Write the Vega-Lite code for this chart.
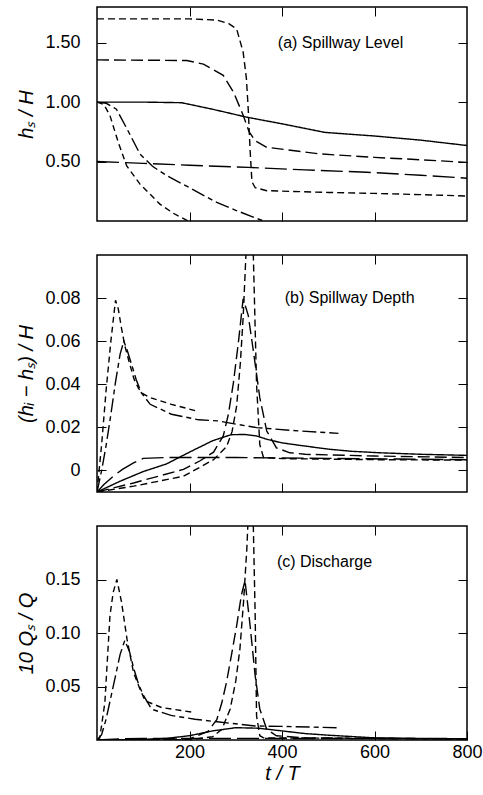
{
"$schema": "https://vega.github.io/schema/vega-lite/v6.json",
"background": "white",
"padding": {"left": 16, "top": 5, "right": 5, "bottom": 5},
"config": {
  "view": {"stroke": "black", "strokeWidth": 1.5},
  "axis": {"labelFont": "Liberation Sans", "labelFontSize": 18, "labelColor": "black", "titleFont": "Liberation Sans", "titleFontSize": 20, "titleFontStyle": "italic", "titleFontWeight": "normal", "titleColor": "black", "tickColor": "black", "tickSize": -9, "tickWidth": 1, "domain": false, "grid": false, "labelPadding": 26, "titlePadding": 8, "labelFlush": false}
},
"datasets": {
"curves": [
{"panel":"a","series":"A","t":0,"v":1.0},{"panel":"a","series":"A","t":100,"v":1.0},{"panel":"a","series":"A","t":183,"v":0.995},{"panel":"a","series":"A","t":250,"v":0.94},{"panel":"a","series":"A","t":324,"v":0.873},{"panel":"a","series":"A","t":402,"v":0.816},{"panel":"a","series":"A","t":493,"v":0.745},{"panel":"a","series":"A","t":600,"v":0.715},{"panel":"a","series":"A","t":700,"v":0.68},{"panel":"a","series":"A","t":800,"v":0.635},
{"panel":"a","series":"B","t":0,"v":1.70},{"panel":"a","series":"B","t":200,"v":1.70},{"panel":"a","series":"B","t":259,"v":1.69},{"panel":"a","series":"B","t":285,"v":1.66},{"panel":"a","series":"B","t":302,"v":1.615},{"panel":"a","series":"B","t":316,"v":1.42},{"panel":"a","series":"B","t":323,"v":1.2},{"panel":"a","series":"B","t":327,"v":0.94},{"panel":"a","series":"B","t":331,"v":0.6},{"panel":"a","series":"B","t":335,"v":0.33},{"panel":"a","series":"B","t":342,"v":0.28},{"panel":"a","series":"B","t":367,"v":0.255},{"panel":"a","series":"B","t":500,"v":0.24},{"panel":"a","series":"B","t":600,"v":0.232},{"panel":"a","series":"B","t":700,"v":0.222},{"panel":"a","series":"B","t":800,"v":0.21},
{"panel":"a","series":"C","t":0,"v":1.355},{"panel":"a","series":"C","t":194,"v":1.35},{"panel":"a","series":"C","t":230,"v":1.32},{"panel":"a","series":"C","t":273,"v":1.225},{"panel":"a","series":"C","t":295,"v":1.085},{"panel":"a","series":"C","t":316,"v":0.89},{"panel":"a","series":"C","t":329,"v":0.75},{"panel":"a","series":"C","t":342,"v":0.675},{"panel":"a","series":"C","t":367,"v":0.62},{"panel":"a","series":"C","t":479,"v":0.565},{"panel":"a","series":"C","t":600,"v":0.535},{"panel":"a","series":"C","t":700,"v":0.515},{"panel":"a","series":"C","t":800,"v":0.493},
{"panel":"a","series":"D","t":0,"v":0.5},{"panel":"a","series":"D","t":100,"v":0.485},{"panel":"a","series":"D","t":200,"v":0.469},{"panel":"a","series":"D","t":327,"v":0.451},{"panel":"a","series":"D","t":450,"v":0.43},{"panel":"a","series":"D","t":583,"v":0.41},{"panel":"a","series":"D","t":700,"v":0.385},{"panel":"a","series":"D","t":800,"v":0.36},
{"panel":"a","series":"E","t":0,"v":1.0},{"panel":"a","series":"E","t":20,"v":0.99},{"panel":"a","series":"E","t":42,"v":0.94},{"panel":"a","series":"E","t":65,"v":0.774},{"panel":"a","series":"E","t":93,"v":0.563},{"panel":"a","series":"E","t":120,"v":0.46},{"panel":"a","series":"E","t":151,"v":0.381},{"panel":"a","series":"E","t":200,"v":0.28},{"panel":"a","series":"E","t":259,"v":0.156},{"panel":"a","series":"E","t":300,"v":0.09},{"panel":"a","series":"E","t":360,"v":0.0},
{"panel":"a","series":"F","t":0,"v":1.0},{"panel":"a","series":"F","t":15,"v":0.98},{"panel":"a","series":"F","t":28,"v":0.887},{"panel":"a","series":"F","t":46,"v":0.662},{"panel":"a","series":"F","t":64,"v":0.465},{"panel":"a","series":"F","t":93,"v":0.31},{"panel":"a","series":"F","t":136,"v":0.142},{"panel":"a","series":"F","t":165,"v":0.065},{"panel":"a","series":"F","t":197,"v":0.0},

{"panel":"b","series":"A","t":0,"v":-0.01},{"panel":"b","series":"A","t":50,"v":-0.005},{"panel":"b","series":"A","t":100,"v":-0.0005},{"panel":"b","series":"A","t":150,"v":0.003},{"panel":"b","series":"A","t":200,"v":0.0085},{"panel":"b","series":"A","t":250,"v":0.0138},{"panel":"b","series":"A","t":290,"v":0.0166},{"panel":"b","series":"A","t":320,"v":0.0167},{"panel":"b","series":"A","t":345,"v":0.016},{"panel":"b","series":"A","t":370,"v":0.0143},{"panel":"b","series":"A","t":400,"v":0.0128},{"panel":"b","series":"A","t":440,"v":0.0116},{"panel":"b","series":"A","t":500,"v":0.0099},{"panel":"b","series":"A","t":550,"v":0.0089},{"panel":"b","series":"A","t":612,"v":0.0082},{"panel":"b","series":"A","t":700,"v":0.0075},{"panel":"b","series":"A","t":800,"v":0.007},
{"panel":"b","series":"B","t":0,"v":-0.01},{"panel":"b","series":"B","t":79,"v":-0.0073},{"panel":"b","series":"B","t":187,"v":-0.0027},{"panel":"b","series":"B","t":252,"v":0.005},{"panel":"b","series":"B","t":280,"v":0.011},{"panel":"b","series":"B","t":292,"v":0.018},{"panel":"b","series":"B","t":302,"v":0.03},{"panel":"b","series":"B","t":310,"v":0.05},{"panel":"b","series":"B","t":316,"v":0.071},{"panel":"b","series":"B","t":322,"v":0.1},{"panel":"b","series":"B","t":330,"v":0.13},{"panel":"b","series":"B","t":338,"v":0.1},{"panel":"b","series":"B","t":345,"v":0.04},{"panel":"b","series":"B","t":352,"v":0.012},{"panel":"b","series":"B","t":360,"v":0.006},{"panel":"b","series":"B","t":400,"v":0.0055},{"panel":"b","series":"B","t":600,"v":0.005},{"panel":"b","series":"B","t":800,"v":0.0048},
{"panel":"b","series":"C","t":0,"v":-0.01},{"panel":"b","series":"C","t":79,"v":-0.0058},{"panel":"b","series":"C","t":187,"v":0.0005},{"panel":"b","series":"C","t":223,"v":0.0045},{"panel":"b","series":"C","t":252,"v":0.0085},{"panel":"b","series":"C","t":273,"v":0.016},{"panel":"b","series":"C","t":284,"v":0.026},{"panel":"b","series":"C","t":295,"v":0.0408},{"panel":"b","series":"C","t":306,"v":0.06},{"panel":"b","series":"C","t":316,"v":0.0797},{"panel":"b","series":"C","t":327,"v":0.072},{"panel":"b","series":"C","t":338,"v":0.0556},{"panel":"b","series":"C","t":352,"v":0.0338},{"panel":"b","series":"C","t":367,"v":0.0183},{"panel":"b","series":"C","t":388,"v":0.0105},{"panel":"b","series":"C","t":417,"v":0.0082},{"panel":"b","series":"C","t":450,"v":0.0075},{"panel":"b","series":"C","t":600,"v":0.0067},{"panel":"b","series":"C","t":800,"v":0.006},
{"panel":"b","series":"D","t":0,"v":-0.01},{"panel":"b","series":"D","t":15,"v":-0.0065},{"panel":"b","series":"D","t":35,"v":-0.0027},{"panel":"b","series":"D","t":55,"v":0.0005},{"panel":"b","series":"D","t":79,"v":0.0035},{"panel":"b","series":"D","t":100,"v":0.0056},{"panel":"b","series":"D","t":150,"v":0.006},{"panel":"b","series":"D","t":300,"v":0.006},{"panel":"b","series":"D","t":500,"v":0.0056},{"panel":"b","series":"D","t":650,"v":0.0053},{"panel":"b","series":"D","t":800,"v":0.005},
{"panel":"b","series":"E","t":0,"v":-0.01},{"panel":"b","series":"E","t":10,"v":0.0},{"panel":"b","series":"E","t":20,"v":0.012},{"panel":"b","series":"E","t":30,"v":0.026},{"panel":"b","series":"E","t":40,"v":0.041},{"panel":"b","series":"E","t":50,"v":0.054},{"panel":"b","series":"E","t":58,"v":0.06},{"panel":"b","series":"E","t":65,"v":0.056},{"panel":"b","series":"E","t":75,"v":0.049},{"panel":"b","series":"E","t":85,"v":0.042},{"panel":"b","series":"E","t":96,"v":0.036},{"panel":"b","series":"E","t":115,"v":0.0307},{"panel":"b","series":"E","t":161,"v":0.0261},{"panel":"b","series":"E","t":220,"v":0.0235},{"panel":"b","series":"E","t":262,"v":0.023},{"panel":"b","series":"E","t":300,"v":0.0215},{"panel":"b","series":"E","t":345,"v":0.0199},{"panel":"b","series":"E","t":420,"v":0.0186},{"panel":"b","series":"E","t":522,"v":0.0172},
{"panel":"b","series":"F","t":0,"v":-0.01},{"panel":"b","series":"F","t":10,"v":0.012},{"panel":"b","series":"F","t":20,"v":0.038},{"panel":"b","series":"F","t":30,"v":0.06},{"panel":"b","series":"F","t":40,"v":0.079},{"panel":"b","series":"F","t":46,"v":0.075},{"panel":"b","series":"F","t":53,"v":0.066},{"panel":"b","series":"F","t":60,"v":0.058},{"panel":"b","series":"F","t":70,"v":0.05},{"panel":"b","series":"F","t":80,"v":0.0424},{"panel":"b","series":"F","t":90,"v":0.038},{"panel":"b","series":"F","t":100,"v":0.0355},{"panel":"b","series":"F","t":115,"v":0.0338},{"panel":"b","series":"F","t":161,"v":0.0307},{"panel":"b","series":"F","t":215,"v":0.0276},

{"panel":"c","series":"A","t":0,"v":0},{"panel":"c","series":"A","t":100,"v":0.0005},{"panel":"c","series":"A","t":150,"v":0.0015},{"panel":"c","series":"A","t":200,"v":0.004},{"panel":"c","series":"A","t":250,"v":0.0085},{"panel":"c","series":"A","t":300,"v":0.0115},{"panel":"c","series":"A","t":350,"v":0.011},{"panel":"c","series":"A","t":400,"v":0.0085},{"panel":"c","series":"A","t":450,"v":0.006},{"panel":"c","series":"A","t":500,"v":0.0045},{"panel":"c","series":"A","t":600,"v":0.002},{"panel":"c","series":"A","t":700,"v":0.0015},{"panel":"c","series":"A","t":800,"v":0.0012},
{"panel":"c","series":"B","t":0,"v":0},{"panel":"c","series":"B","t":200,"v":0.0003},{"panel":"c","series":"B","t":250,"v":0.003},{"panel":"c","series":"B","t":270,"v":0.01},{"panel":"c","series":"B","t":288,"v":0.029},{"panel":"c","series":"B","t":300,"v":0.055},{"panel":"c","series":"B","t":309,"v":0.085},{"panel":"c","series":"B","t":317,"v":0.13},{"panel":"c","series":"B","t":324,"v":0.179},{"panel":"c","series":"B","t":331,"v":0.25},{"panel":"c","series":"B","t":338,"v":0.2},{"panel":"c","series":"B","t":342,"v":0.116},{"panel":"c","series":"B","t":345,"v":0.0225},{"panel":"c","series":"B","t":352,"v":0.004},{"panel":"c","series":"B","t":360,"v":0.002},{"panel":"c","series":"B","t":800,"v":0.001},
{"panel":"c","series":"C","t":0,"v":0},{"panel":"c","series":"C","t":200,"v":0.001},{"panel":"c","series":"C","t":240,"v":0.008},{"panel":"c","series":"C","t":259,"v":0.019},{"panel":"c","series":"C","t":270,"v":0.035},{"panel":"c","series":"C","t":280,"v":0.054},{"panel":"c","series":"C","t":291,"v":0.08},{"panel":"c","series":"C","t":302,"v":0.107},{"panel":"c","series":"C","t":312,"v":0.135},{"panel":"c","series":"C","t":320,"v":0.149},{"panel":"c","series":"C","t":331,"v":0.107},{"panel":"c","series":"C","t":342,"v":0.06},{"panel":"c","series":"C","t":352,"v":0.029},{"panel":"c","series":"C","t":367,"v":0.01},{"panel":"c","series":"C","t":388,"v":0.004},{"panel":"c","series":"C","t":450,"v":0.002},{"panel":"c","series":"C","t":800,"v":0.001},
{"panel":"c","series":"D","t":0,"v":0},{"panel":"c","series":"D","t":50,"v":0.001},{"panel":"c","series":"D","t":100,"v":0.0015},{"panel":"c","series":"D","t":400,"v":0.0015},{"panel":"c","series":"D","t":800,"v":0.001},
{"panel":"c","series":"E","t":0,"v":0},{"panel":"c","series":"E","t":10,"v":0.005},{"panel":"c","series":"E","t":20,"v":0.02},{"panel":"c","series":"E","t":30,"v":0.04},{"panel":"c","series":"E","t":40,"v":0.06},{"panel":"c","series":"E","t":50,"v":0.08},{"panel":"c","series":"E","t":60,"v":0.093},{"panel":"c","series":"E","t":70,"v":0.083},{"panel":"c","series":"E","t":80,"v":0.066},{"panel":"c","series":"E","t":90,"v":0.052},{"panel":"c","series":"E","t":100,"v":0.042},{"panel":"c","series":"E","t":118,"v":0.0288},{"panel":"c","series":"E","t":160,"v":0.023},{"panel":"c","series":"E","t":212,"v":0.0194},{"panel":"c","series":"E","t":260,"v":0.017},{"panel":"c","series":"E","t":342,"v":0.0131},{"panel":"c","series":"E","t":400,"v":0.0127},{"panel":"c","series":"E","t":518,"v":0.0115},
{"panel":"c","series":"F","t":0,"v":0},{"panel":"c","series":"F","t":6,"v":0.002},{"panel":"c","series":"F","t":17,"v":0.035},{"panel":"c","series":"F","t":28,"v":0.116},{"panel":"c","series":"F","t":35,"v":0.138},{"panel":"c","series":"F","t":43,"v":0.15},{"panel":"c","series":"F","t":53,"v":0.129},{"panel":"c","series":"F","t":65,"v":0.094},{"panel":"c","series":"F","t":79,"v":0.063},{"panel":"c","series":"F","t":93,"v":0.0475},{"panel":"c","series":"F","t":104,"v":0.0366},{"panel":"c","series":"F","t":140,"v":0.0303},{"panel":"c","series":"F","t":212,"v":0.0256}
],
"notes": [
{"panel":"a","t":391,"v":1.5,"text":"(a) Spillway Level"},
{"panel":"b","t":406,"v":0.08,"text":"(b) Spillway Depth"},
{"panel":"c","t":389,"v":0.166,"text":"(c) Discharge"}
]
},
"spacing": 30,
"vconcat": [
{
 "width": 370, "height": 214,
 "layer": [
  {"data": {"name": "curves"}, "transform": [{"filter": "datum.panel == 'a'"}],
   "mark": {"type": "line", "clip": true, "strokeWidth": 1.4, "color": "black"},
   "encoding": {
    "x": {"field": "t", "type": "quantitative", "scale": {"domain": [0, 800], "nice": false, "zero": false}, "axis": {"orient": "bottom", "values": [200, 400, 600], "labels": false, "title": null}},
    "y": {"field": "v", "type": "quantitative", "scale": {"domain": [0, 1.8], "nice": false, "zero": false}, "axis": {"orient": "left", "values": [0.5, 1, 1.5], "format": ".2f", "title": "hₛ / H"}},
    "strokeDash": {"field": "series", "type": "nominal", "scale": {"domain": ["A","B","C","D","E","F"], "range": [[1,0],[7,4],[12,5],[22,6],[14,4,5,4],[6,4]]}, "legend": null}
   }},
  {"data": {"name": "notes"}, "transform": [{"filter": "datum.panel == 'a'"}],
   "mark": {"type": "text", "align": "left", "baseline": "middle", "font": "Liberation Sans", "fontSize": 16, "color": "black"},
   "encoding": {
    "x": {"field": "t", "type": "quantitative", "scale": {"domain": [0, 800], "nice": false, "zero": false}, "axis": {"orient": "top", "values": [200, 400, 600], "labels": false, "title": null}},
    "y": {"field": "v", "type": "quantitative", "scale": {"domain": [0, 1.8], "nice": false, "zero": false}, "axis": {"orient": "right", "values": [0.5, 1, 1.5], "labels": false, "title": null}},
    "text": {"field": "text"}
   }}
 ],
 "resolve": {"axis": {"x": "independent", "y": "independent"}}
},
{
 "width": 370, "height": 237,
 "layer": [
  {"data": {"name": "curves"}, "transform": [{"filter": "datum.panel == 'b'"}],
   "mark": {"type": "line", "clip": true, "strokeWidth": 1.4, "color": "black"},
   "encoding": {
    "x": {"field": "t", "type": "quantitative", "scale": {"domain": [0, 800], "nice": false, "zero": false}, "axis": {"orient": "bottom", "values": [200, 400, 600], "labels": false, "title": null}},
    "y": {"field": "v", "type": "quantitative", "scale": {"domain": [-0.01, 0.1], "nice": false, "zero": false}, "axis": {"orient": "left", "values": [0, 0.02, 0.04, 0.06, 0.08], "labelExpr": "datum.value == 0 ? '0' : format(datum.value, '.2f')", "title": "(hᵢ − hₛ) / H"}},
    "strokeDash": {"field": "series", "type": "nominal", "scale": {"domain": ["A","B","C","D","E","F"], "range": [[1,0],[7,4],[12,5],[22,6],[14,4,5,4],[6,4]]}, "legend": null}
   }},
  {"data": {"name": "notes"}, "transform": [{"filter": "datum.panel == 'b'"}],
   "mark": {"type": "text", "align": "left", "baseline": "middle", "font": "Liberation Sans", "fontSize": 16, "color": "black"},
   "encoding": {
    "x": {"field": "t", "type": "quantitative", "scale": {"domain": [0, 800], "nice": false, "zero": false}, "axis": {"orient": "top", "values": [200, 400, 600], "labels": false, "title": null}},
    "y": {"field": "v", "type": "quantitative", "scale": {"domain": [-0.01, 0.1], "nice": false, "zero": false}, "axis": {"orient": "right", "values": [0, 0.02, 0.04, 0.06, 0.08], "labels": false, "title": null}},
    "text": {"field": "text"}
   }}
 ],
 "resolve": {"axis": {"x": "independent", "y": "independent"}}
},
{
 "width": 370, "height": 214,
 "layer": [
  {"data": {"name": "curves"}, "transform": [{"filter": "datum.panel == 'c'"}],
   "mark": {"type": "line", "clip": true, "strokeWidth": 1.4, "color": "black"},
   "encoding": {
    "x": {"field": "t", "type": "quantitative", "scale": {"domain": [0, 800], "nice": false, "zero": false}, "axis": {"orient": "bottom", "values": [200, 400, 600, 800], "labelPadding": 12, "title": "t / T", "titlePadding": 2}},
    "y": {"field": "v", "type": "quantitative", "scale": {"domain": [0, 0.2], "nice": false, "zero": false}, "axis": {"orient": "left", "values": [0.05, 0.1, 0.15], "format": ".2f", "title": "10 Qₛ / Q"}},
    "strokeDash": {"field": "series", "type": "nominal", "scale": {"domain": ["A","B","C","D","E","F"], "range": [[1,0],[7,4],[12,5],[22,6],[14,4,5,4],[6,4]]}, "legend": null}
   }},
  {"data": {"name": "notes"}, "transform": [{"filter": "datum.panel == 'c'"}],
   "mark": {"type": "text", "align": "left", "baseline": "middle", "font": "Liberation Sans", "fontSize": 16, "color": "black"},
   "encoding": {
    "x": {"field": "t", "type": "quantitative", "scale": {"domain": [0, 800], "nice": false, "zero": false}, "axis": {"orient": "top", "values": [200, 400, 600], "labels": false, "title": null}},
    "y": {"field": "v", "type": "quantitative", "scale": {"domain": [0, 0.2], "nice": false, "zero": false}, "axis": {"orient": "right", "values": [0.05, 0.1, 0.15], "labels": false, "title": null}},
    "text": {"field": "text"}
   }}
 ],
 "resolve": {"axis": {"x": "independent", "y": "independent"}}
}
]
}
